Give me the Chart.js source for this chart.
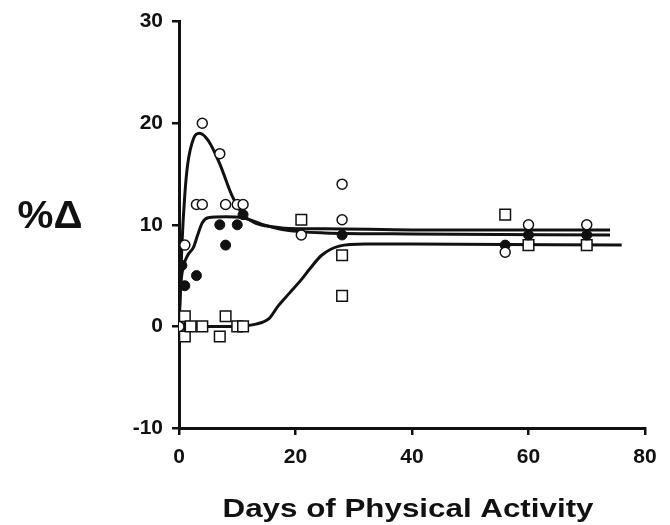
<!DOCTYPE html>
<html>
<head>
<meta charset="utf-8">
<script src="https://cdn.jsdelivr.net/npm/chart.js@4.4.1/dist/chart.umd.min.js"></script>
<style>
  html, body { margin: 0; padding: 0; background: #fff; }
  #wrap { width: 670px; height: 525px; }
</style>
</head>
<body>
<div id="wrap"><canvas id="chart"></canvas></div>
<script>
// measured points (open circles, filled circles, open squares)
const openDays = [0, 1, 3, 4, 4, 7, 8, 10, 11, 21, 28, 28, 56, 60, 70];
const openVals = [0, 8, 12, 20, 12, 17, 12, 12, 12, 9, 14, 10.5, 7.3, 10, 10];

const filledDays = [0, 0.5, 1, 3, 7, 8, 10, 11, 28, 56, 60, 70];
const filledVals = [0, 6, 4, 5, 10, 8, 10, 11, 9, 8, 9, 9];

const squareDays = [0, 1, 1, 2, 4, 7, 8, 10, 11, 21, 28, 28, 56, 60, 70];
const squareVals = [0, 1, -1, 0, 0, -1, 1, 0, 0, 10.5, 7, 3, 11, 8, 8];

// fitted curves
const curveADays = [0, 0.5, 1, 1.5, 2.5, 3.5, 5, 7, 9, 11, 13, 16, 20, 25, 40, 74];
const curveAVals = [0, 8, 13, 16, 18.5, 19, 18.3, 16, 13, 11, 10.2, 9.8, 9.6, 9.6, 9.5, 9.5];

const curveBDays = [0, 0.3, 0.8, 1.5, 2.5, 3.2, 4, 5, 8, 11, 14, 18, 25, 40, 74];
const curveBVals = [0, 4, 6, 7, 7.8, 9, 10.2, 10.7, 10.8, 10.7, 10.1, 9.5, 9.2, 9.1, 9.0];

const curveCDays = [0, 5, 10, 13, 15.5, 17, 19, 21, 22.5, 24.5, 27.5, 32, 40, 76];
const curveCVals = [0, 0, 0, 0.2, 0.8, 2, 3.3, 4.6, 5.7, 7, 7.9, 8.1, 8.1, 8.0];

const xTicks = [0, 20, 40, 60, 80];
const yTicks = [-10, 0, 10, 20, 30];

const xTitle = "Days of Physical Activity";
const yTitle = "%\u0394";

const toXY = (xs, ys) => xs.map((x, i) => ({ x: x, y: ys[i] }));

const curve = (xs, ys) => ({
  data: toXY(xs, ys),
  showLine: true,
  borderColor: "#111",
  borderWidth: 3,
  pointRadius: 0,
  cubicInterpolationMode: "monotone",
  order: 2,
});

const FONT = '"Liberation Sans", Arial, sans-serif';

// draws the two axis titles, stretched like the original
const titles = {
  id: "titles",
  afterDraw(chart) {
    const ctx = chart.ctx;
    const put = (text, size, cx, base, width) => {
      ctx.save();
      ctx.font = "bold " + size + "px " + FONT;
      ctx.fillStyle = "#111";
      ctx.textAlign = "center";
      ctx.textBaseline = "alphabetic";
      const w = ctx.measureText(text).width;
      ctx.translate(cx, base);
      ctx.scale(width / w, 1);
      ctx.fillText(text, 0, 0);
      ctx.restore();
    };
    put(xTitle, 25, 408, 517, 371);
    put(yTitle, 38, 50, 228, 65);
  },
};

const tickFont = { family: FONT, size: 21, weight: "bold" };

new Chart(document.getElementById("chart"), {
  type: "scatter",
  data: {
    datasets: [
      curve(curveADays, curveAVals),
      curve(curveBDays, curveBVals),
      curve(curveCDays, curveCVals),
      {
        data: toXY(openDays, openVals),
        pointStyle: "circle",
        pointRadius: 5,
        pointBackgroundColor: "#fff",
        pointBorderColor: "#111",
        pointBorderWidth: 1.5,
        order: 1,
      },
      {
        data: toXY(filledDays, filledVals),
        pointStyle: "circle",
        pointRadius: 5,
        pointBackgroundColor: "#111",
        pointBorderColor: "#111",
        pointBorderWidth: 1,
        order: 1,
      },
      {
        data: toXY(squareDays, squareVals),
        pointStyle: "rect",
        pointRadius: 7.5,
        pointBackgroundColor: "#fff",
        pointBorderColor: "#111",
        pointBorderWidth: 1.5,
        order: 1,
      },
    ],
  },
  options: {
    responsive: true,
    maintainAspectRatio: false,
    animation: false,
    layout: { padding: { top: 21, right: 25, left: 0, bottom: 0 } },
    plugins: { legend: { display: false }, tooltip: { enabled: false } },
    scales: {
      x: {
        type: "linear",
        min: 0,
        max: 80,
        afterFit: (s) => { s.height = 97; },
        afterBuildTicks: (s) => { s.ticks = xTicks.map((v) => ({ value: v })); },
        ticks: { color: "#111", font: tickFont, padding: 10 },
        grid: { drawOnChartArea: false, drawTicks: true, tickLength: 7, color: "#111", lineWidth: 2.5 },
        border: { color: "#111", width: 3 },
      },
      y: {
        min: -10,
        max: 30,
        afterFit: (s) => { s.width = 179; },
        afterBuildTicks: (s) => { s.ticks = yTicks.map((v) => ({ value: v })); },
        ticks: { color: "#111", font: tickFont, padding: 9 },
        grid: { drawOnChartArea: false, drawTicks: true, tickLength: 7, color: "#111", lineWidth: 2.5 },
        border: { color: "#111", width: 3 },
      },
    },
  },
  plugins: [titles],
});
</script>
</body>
</html>
